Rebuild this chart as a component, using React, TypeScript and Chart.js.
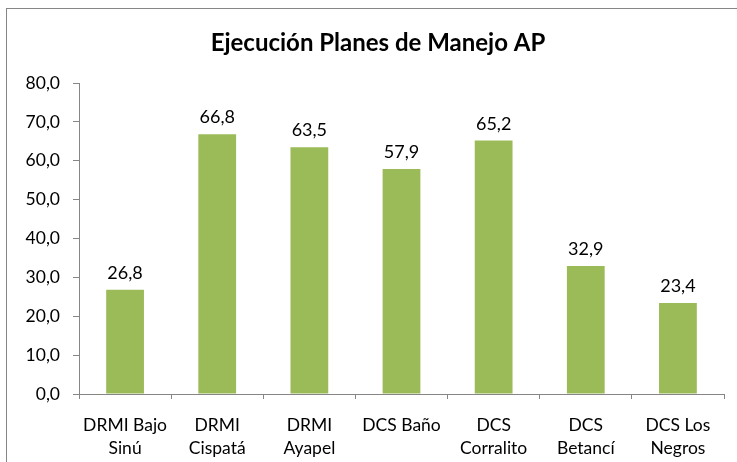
import React, { useEffect, useRef } from "react";
import { Chart, registerables } from "chart.js";

Chart.register(...registerables);

const categories: (string | string[])[] = [
  ["DRMI Bajo", "Sinú"],
  ["DRMI", "Cispatá"],
  ["DRMI", "Ayapel"],
  "DCS Baño",
  ["DCS", "Corralito"],
  ["DCS", "Betancí"],
  ["DCS Los", "Negros"],
];
const values = [26.8, 66.8, 63.5, 57.9, 65.2, 32.9, 23.4];
const titleText = "Ejecución Planes de Manejo AP";
const yMin = 0;
const yMax = 80;
const yStep = 10;

const FONT = "Lato, 'Open Sans', sans-serif";
const fmt = (v: number) => v.toFixed(1).replace(".", ",");

export default function App() {
  const ref = useRef<HTMLCanvasElement>(null);
  useEffect(() => {
    if (!ref.current) return;
    const labelPlugin = {
      id: "labels",
      afterDatasetsDraw(chart: any) {
        const ctx = chart.ctx;
        ctx.save();
        ctx.font = `18px ${FONT}`;
        ctx.fillStyle = "#000";
        ctx.textAlign = "center";
        ctx.textBaseline = "alphabetic";
        const meta = chart.getDatasetMeta(0);
        meta.data.forEach((bar: any, i: number) => {
          ctx.fillText(fmt(values[i]), bar.x, bar.y - 11);
        });
        ctx.font = `bold 24px ${FONT}`;
        ctx.textBaseline = "middle";
        ctx.fillText(titleText, 378, 43);
        ctx.restore();
      },
    };
    const chart = new Chart(ref.current, {
      type: "bar",
      data: {
        labels: categories,
        datasets: [
          {
            data: values,
            backgroundColor: "#9BBB59",
            categoryPercentage: 1,
            barPercentage: 0.41,
          },
        ],
      },
      options: {
        animation: false,
        responsive: false,
        layout: { padding: { left: 0, right: 13, top: 83, bottom: 0 } },
        plugins: {
          legend: { display: false },
          tooltip: { enabled: false },
          title: { display: false },
        },
        scales: {
          x: {
            offset: true,
            grid: {
              offset: true,
              drawOnChartArea: false,
              drawTicks: true,
              tickLength: 5,
              color: "#868686",
            },
            border: { color: "#868686" },
            ticks: {
              color: "#000",
              font: { family: FONT, size: 17.5, lineHeight: 1.31 },
              maxRotation: 0,
              autoSkip: false,
              padding: 15,
            },
            afterFit: (s: any) => {
              s.height = 68;
            },
          },
          y: {
            min: yMin,
            max: yMax,
            grid: {
              drawOnChartArea: false,
              drawTicks: true,
              tickLength: 6,
              color: "#868686",
            },
            border: { color: "#868686" },
            ticks: {
              stepSize: yStep,
              color: "#000",
              font: { family: FONT, size: 17.5 },
              padding: 13,
              callback: (v: any) => fmt(Number(v)),
            },
            afterFit: (s: any) => {
              s.width = 79;
            },
          },
        },
      },
      plugins: [labelPlugin],
    });
    return () => chart.destroy();
  }, []);
  return (
    <div style={{ position: "fixed", left: 0, top: 0, width: 737, height: 462, background: "#fff", overflow: "hidden" }}>
      <div
        style={{
          position: "absolute",
          left: 6,
          top: 8,
          width: 760,
          height: 480,
          border: "1px solid #868686",
        }}
      />
      <canvas ref={ref} width={737} height={462} style={{ position: "absolute", left: 0, top: 0 }} />
    </div>
  );
}
